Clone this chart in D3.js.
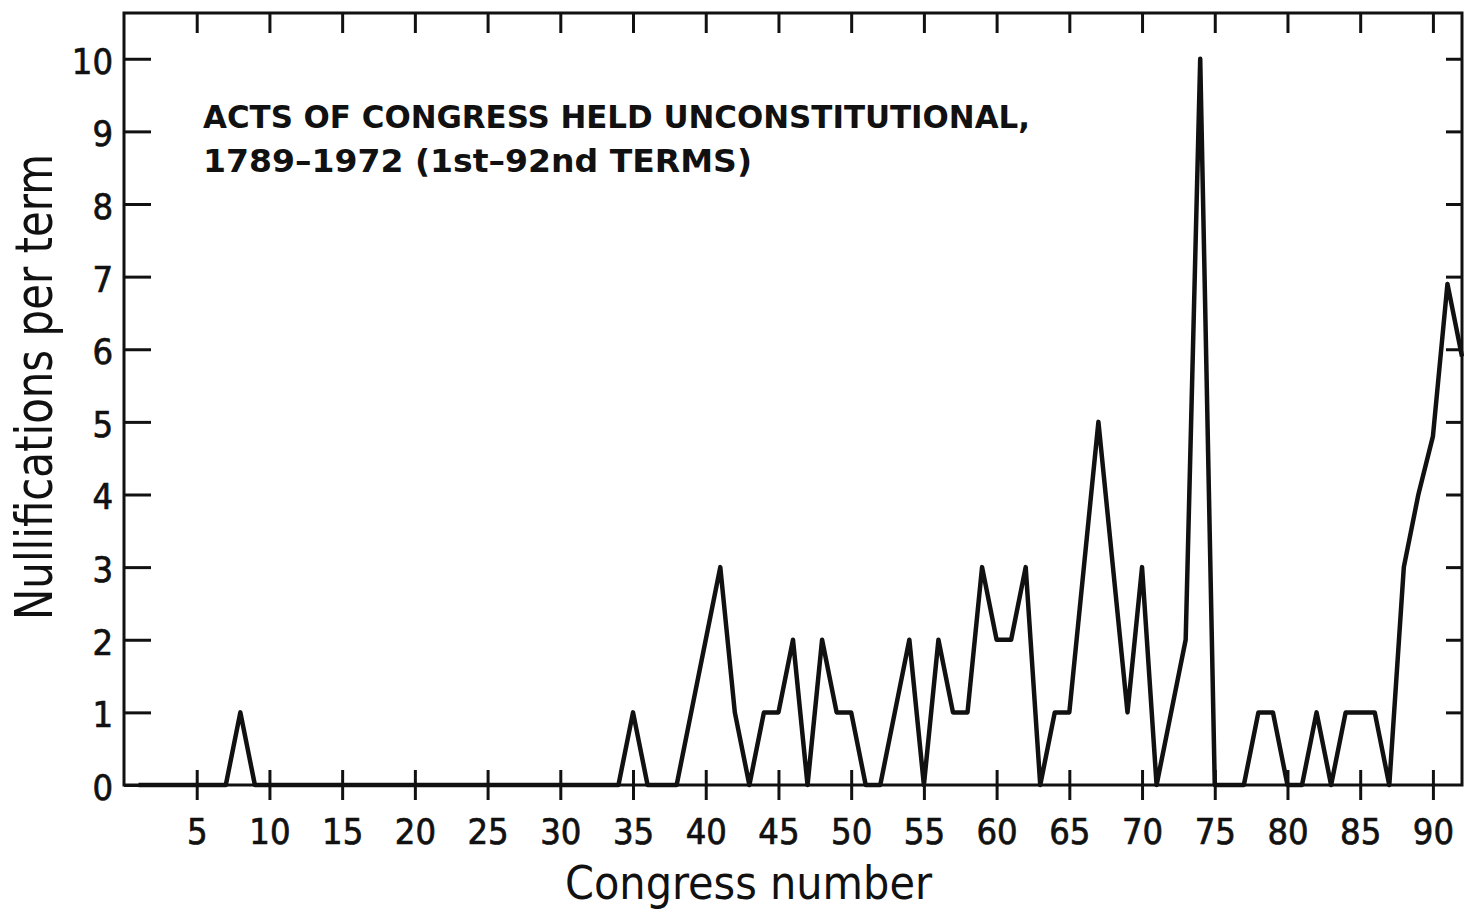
<!DOCTYPE html>
<html>
<head>
<meta charset="utf-8">
<script src="https://cdn.jsdelivr.net/npm/d3@7"></script>
<style>
  body { margin: 0; background: #fff; }
  svg { display: block; }
  text { fill: #111; }
</style>
</head>
<body>
<div id="chart"></div>
<script>
// Acts of Congress held unconstitutional, per Congress (1st..92nd)
const congresses = d3.range(1, 93);
const nullifications = [
  0, 0, 0, 0, 0, 0, 0, 1, 0, 0,   // 1-10
  0, 0, 0, 0, 0, 0, 0, 0, 0, 0,   // 11-20
  0, 0, 0, 0, 0, 0, 0, 0, 0, 0,   // 21-30
  0, 0, 0, 0, 1, 0, 0, 0, 1, 2,   // 31-40
  3, 1, 0, 1, 1, 2, 0, 2, 1, 1,   // 41-50
  0, 0, 1, 2, 0, 2, 1, 1, 3, 2,   // 51-60
  2, 3, 0, 1, 1, 3, 5, 3, 1, 3,   // 61-70
  0, 1, 2, 10, 0, 0, 0, 1, 1, 0,  // 71-80
  0, 1, 0, 1, 1, 1, 0, 3, 4, 4.8, // 81-90
  6.9, 5.9                        // 91-92
];
const xTicks = d3.range(5, 95, 5);
const yTicks = d3.range(0, 11);

const titleLines = [
  "ACTS OF CONGRESS HELD UNCONSTITUTIONAL,",
  "1789\u20131972  (1st\u201392nd TERMS)"
];
const xTitle = "Congress number";
const yTitle = "Nullifications per term";

const width = 1464, height = 914;
const plot = { left: 124, right: 1462, top: 13, bottom: 785 };
const font = "'DejaVu Sans Condensed', 'DejaVu Sans', sans-serif";

const svg = d3.select('#chart').append('svg')
  .attr('width', width)
  .attr('height', height);

const x = d3.scaleLinear().domain([0, 92]).range([plot.left, plot.right]);
const y = d3.scaleLinear().domain([0, 10.63]).range([plot.bottom, plot.top]);

// frame
svg.append('rect')
  .attr('x', plot.left).attr('y', plot.top)
  .attr('width', plot.right - plot.left).attr('height', plot.bottom - plot.top)
  .attr('fill', 'none').attr('stroke', '#111').attr('stroke-width', 3);

// left axis, ticks inward
const leftAxis = svg.append('g')
  .attr('transform', 'translate(' + plot.left + ',0)')
  .call(d3.axisLeft(y).tickValues(yTicks).tickSize(-27).tickPadding(11).tickFormat(d3.format('d')));

// right axis, ticks inward, no labels
const rightAxis = svg.append('g')
  .attr('transform', 'translate(' + plot.right + ',0)')
  .call(d3.axisLeft(y).tickValues(yTicks.slice(1)).tickSize(16).tickFormat(''));

// bottom axis, ticks crossing the baseline
const bottomAxis = svg.append('g')
  .attr('transform', 'translate(0,' + plot.bottom + ')')
  .call(d3.axisBottom(x).tickValues(xTicks).tickSize(15).tickPadding(18).tickFormat(d3.format('d')));
bottomAxis.selectAll('.tick line').attr('y1', -15);

// top axis, ticks inward
const topAxis = svg.append('g')
  .attr('transform', 'translate(0,' + plot.top + ')')
  .call(d3.axisTop(x).tickValues(xTicks).tickSize(-20).tickFormat(''));

[leftAxis, rightAxis, bottomAxis, topAxis].forEach(g => {
  g.select('.domain').remove();
  g.selectAll('.tick line').attr('stroke', '#111').attr('stroke-width', 3);
  g.selectAll('.tick text')
    .attr('font-family', font)
    .attr('font-size', 36)
    .attr('fill', '#111')
    .attr('stroke', '#111')
    .attr('stroke-width', 0.7);
});
leftAxis.selectAll('.tick text').attr('dy', '0.4em');

// data line
const line = d3.line()
  .x((d, i) => x(congresses[i]))
  .y(d => y(d));

svg.append('path')
  .datum(nullifications)
  .attr('d', line)
  .attr('fill', 'none')
  .attr('stroke', '#111')
  .attr('stroke-width', 4.5)
  .attr('stroke-linejoin', 'round');

// annotation
svg.append('g').selectAll('text')
  .data(titleLines)
  .join('text')
  .attr('x', 203)
  .attr('y', (d, i) => 128 + i * 44)
  .attr('font-family', font)
  .attr('font-weight', 'bold')
  .attr('font-size', 32)
  .attr('textLength', (d, i) => i === 0 ? 827 : 549)
  .attr('lengthAdjust', 'spacingAndGlyphs')
  .text(d => d);

// axis titles
svg.append('text')
  .attr('x', 565)
  .attr('y', 899)
  .attr('font-family', font)
  .attr('font-size', 46)
  .attr('textLength', 367)
  .attr('lengthAdjust', 'spacingAndGlyphs')
  .text(xTitle);

svg.append('text')
  .attr('transform', 'translate(52,620) rotate(-90)')
  .attr('font-family', font)
  .attr('font-size', 52)
  .attr('textLength', 466)
  .attr('lengthAdjust', 'spacingAndGlyphs')
  .text(yTitle);
</script>
</body>
</html>
